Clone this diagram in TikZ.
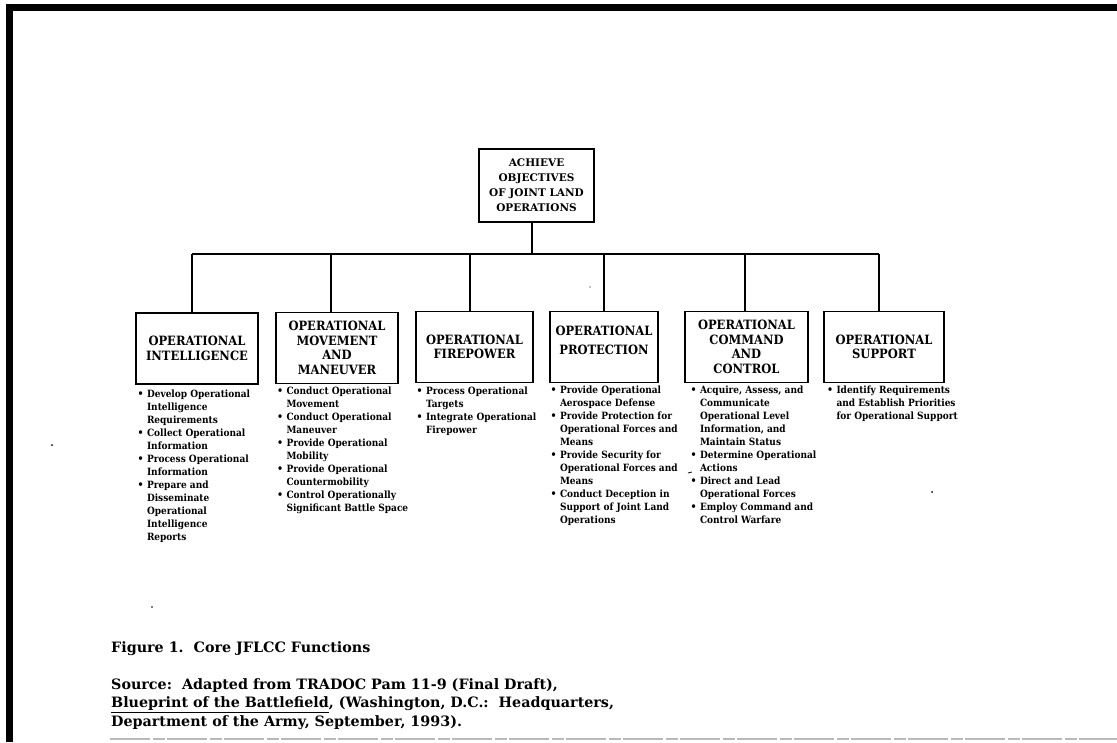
\documentclass[tikz,border=0pt]{standalone}
\usepackage{fontspec}
\setmainfont{DejaVu Serif}
\newfontfamily\narrowfont{DejaVu Serif}[FakeStretch=0.9]
\newcommand\bul{{\fontsize{10.5}{10.5}\selectfont\textbullet}}
\tikzset{
  x=1pt, y=-1pt,
  box/.style={draw, line width=1.5pt, rectangle, inner sep=0pt, align=center,
    minimum height=71pt, font=\narrowfont\bfseries\fontsize{12.8}{14.5}\selectfont},
  topbox/.style={box, font=\bfseries\fontsize{10.5}{15}\selectfont},
  conn/.style={line width=1.5pt},
  lst/.style={anchor=base west, inner sep=0pt, font=\narrowfont\bfseries\fontsize{10}{13}\selectfont},
  captext/.style={anchor=base west, inner sep=0pt, align=left, font=\bfseries\fontsize{14.3}{18.5}\selectfont},
  speck/.style={fill=black}
}
\begin{document}
\begin{tikzpicture}
\useasboundingbox (0,0) rectangle (1117,742);
% frame
\draw[line width=7pt] (9.5,742) -- (9.5,7.5) -- (1117,7.5);
\draw[gray!55, line width=1.2pt, dash pattern=on 40pt off 3pt on 12pt off 2pt] (110,739) -- (1117,739);

% top box
\node[topbox, minimum width=115pt, minimum height=73pt] (top) at (536.5,185.5)
  {ACHIEVE\\OBJECTIVES\\OF JOINT LAND\\OPERATIONS};

% function boxes
\node[box, minimum width=122pt] (b1) at (197,348.5) {OPERATIONAL\\INTELLIGENCE};
\node[box, minimum width=122pt] (b2) at (337,348) {OPERATIONAL\\MOVEMENT\\AND\\MANEUVER};
\node[box, minimum width=117pt] (b3) at (474.5,347) {OPERATIONAL\\FIREPOWER};
\node[box, minimum width=108pt] (b4) at (604,347)
  {\raisebox{5pt}[\height][\depth]{\begin{tabular}{@{}c@{}}OPERATIONAL\\[4pt]PROTECTION\end{tabular}}};
\node[box, minimum width=123pt] (b5) at (746.5,347) {OPERATIONAL\\COMMAND\\AND\\CONTROL};
\node[box, minimum width=120pt] (b6) at (884,347) {OPERATIONAL\\SUPPORT};

% bus
\coordinate (d0) at (532,254);
\coordinate (d1) at (192,254);
\coordinate (d2) at (331,254);
\coordinate (d3) at (470,254);
\coordinate (d4) at (604,254);
\coordinate (d5) at (745,254);
\coordinate (d6) at (879,254);
\draw[conn] (d0 |- top.south) -- (d0);
\draw[conn] (d1) -- (d6);
\foreach \i in {1,...,6} \draw[conn] (d\i) -- (d\i |- b\i.north);

% lists
\node[lst] (l1) at (137.5,397.7) {\begin{tabular}[t]{@{}p{9.3pt}@{}l@{}}
\bul & Develop Operational\\ & Intelligence\\ & Requirements\\
\bul & Collect Operational\\ & Information\\
\bul & Process Operational\\ & Information\\
\bul & Prepare and\\ & Disseminate\\ & Operational\\ & Intelligence\\ & Reports
\end{tabular}};
\node[lst] (l2) at (277,394.7) {\begin{tabular}[t]{@{}p{9.3pt}@{}l@{}}
\bul & Conduct Operational\\ & Movement\\
\bul & Conduct Operational\\ & Maneuver\\
\bul & Provide Operational\\ & Mobility\\
\bul & Provide Operational\\ & Countermobility\\
\bul & Control Operationally\\ & Significant Battle Space
\end{tabular}};
\node[lst] (l3) at (416.5,394.7) {\begin{tabular}[t]{@{}p{9.3pt}@{}l@{}}
\bul & Process Operational\\ & Targets\\
\bul & Integrate Operational\\ & Firepower
\end{tabular}};
\node[lst] (l4) at (550.5,393.7) {\begin{tabular}[t]{@{}p{9.3pt}@{}l@{}}
\bul & Provide Operational\\ & Aerospace Defense\\
\bul & Provide Protection for\\ & Operational Forces and\\ & Means\\
\bul & Provide Security for\\ & Operational Forces and\\ & Means\\
\bul & Conduct Deception in\\ & Support of Joint Land\\ & Operations
\end{tabular}};
\node[lst] (l5) at (690.5,393.7) {\begin{tabular}[t]{@{}p{9.3pt}@{}l@{}}
\bul & Acquire, Assess, and\\ & Communicate\\ & Operational Level\\ & Information, and\\ & Maintain Status\\
\bul & Determine Operational\\ & Actions\\
\bul & Direct and Lead\\ & Operational Forces\\
\bul & Employ Command and\\ & Control Warfare
\end{tabular}};
\node[lst] (l6) at (827,393.7) {\begin{tabular}[t]{@{}p{9.3pt}@{}l@{}}
\bul & Identify Requirements\\ & and Establish Priorities\\ & for Operational Support
\end{tabular}};

% caption
\node[captext] (c1) at (111,652) {Figure 1.\ \ Core JFLCC Functions};
\node[captext] (c2) at (111,726) {Source:\ \ Adapted from TRADOC Pam 11-9 (Final Draft),\\
\underline{Blueprint of the Battlefield}, (Washington, D.C.:\ \ Headquarters,\\
Department of the Army, September, 1993).};

% scan specks
\fill[speck] (52,445) circle (1pt);
\fill[speck] (932,492) circle (1pt);
\fill[speck] (590,287) circle (0.6pt);
\fill[speck] (152,607) circle (0.8pt);
\draw[line width=0.8pt] (688,473) -- (692,472);
\end{tikzpicture}
\end{document}
